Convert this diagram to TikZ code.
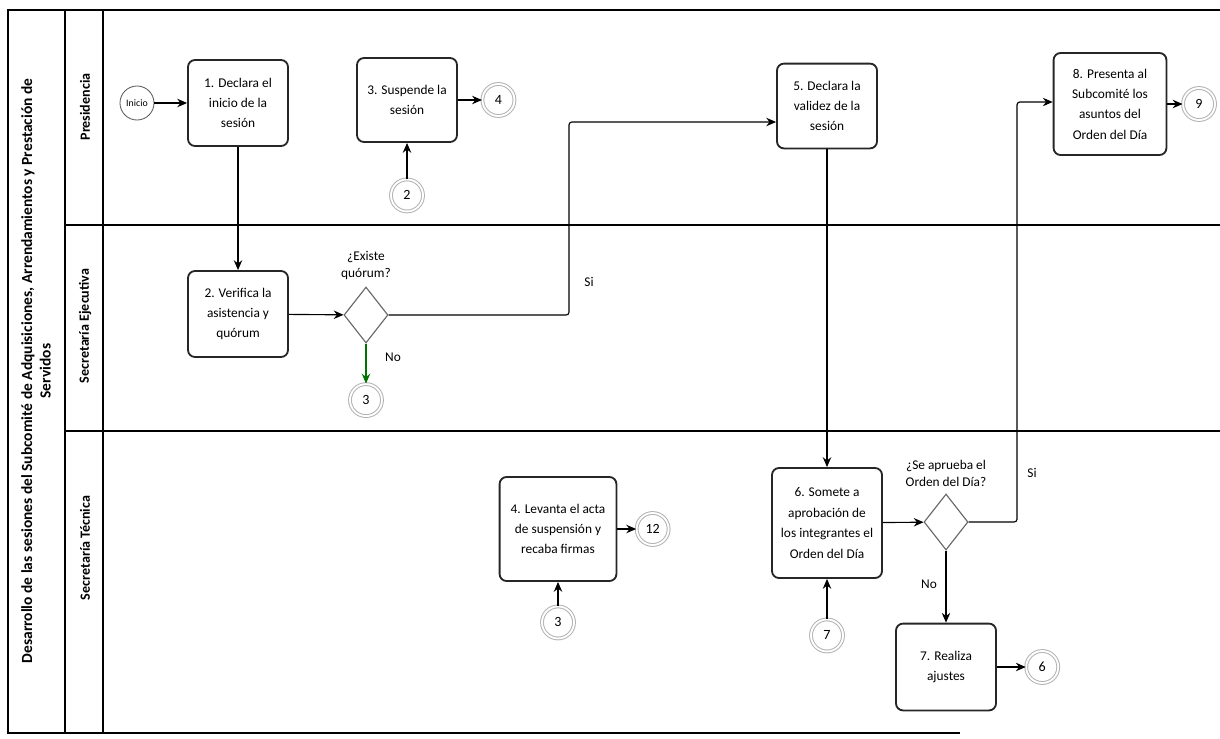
\documentclass[tikz,border=0pt]{standalone}
\usepackage{fontspec}
\setmainfont{Carlito}
\usepackage{tikz}
\usetikzlibrary{positioning, arrows.meta, shapes.geometric}
\tikzset{task node/.style={rectangle, draw=black!85, line width=1.3pt, rounded corners=5pt, align=center, font=\fontsize{9.5}{14.5}\selectfont, minimum width=2.5cm, minimum height=2.15cm, inner sep=2pt},
	link node/.style={circle, draw=gray!60, double, double distance=1.3pt, line width=0.7pt, minimum size=0.8cm, inner sep=0pt, font=\fontsize{10}{12}\selectfont},
	gate node/.style={diamond, draw=gray!80!black, line width=0.8pt, minimum width=1.1cm, minimum height=1.4cm, inner sep=0pt},
	lane label/.style={rotate=90, font=\bfseries\fontsize{10}{12}\selectfont},
	flow label/.style={font=\fontsize{9.5}{12}\selectfont, align=center},}

\begin{document}
\begin{tikzpicture}[x=0.025cm, y=-0.025cm, -{Stealth[length=7pt, width=6pt]}, line width=0.8pt]
		\useasboundingbox (0,0) rectangle (1220,738);
		% Lanes
		\draw[-, line width=1pt] (1220,10) -- (8,10) -- (8,733) -- (960,733);
		\draw[-, line width=1pt] (65,10) -- (65,733);
		\draw[-, line width=1pt] (103,10) -- (103,733);
		\draw[-, line width=1pt] (65,225) -- (1220,225);
		\draw[-, line width=1pt] (65,431) -- (1220,431);
		\node[lane label, align=center, font=\bfseries\fontsize{11}{13}\selectfont] (title) at (36,371) {Desarrollo de las sesiones del Subcomité de Adquisiciones, Arrendamientos y Prestación de\\Servidos};
		\node[lane label] (pres) at (85,107) {Presidencia};
		\node[lane label] (ejec) at (85,326) {Secretaría Ejecutiva};
		\node[lane label] (tecn) at (85,548) {Secretaría Técnica};
		% Tasks
		\node[circle, draw=gray!70!black, line width=0.6pt, minimum size=0.85cm, inner sep=0pt, font=\fontsize{7}{8}\selectfont] (inicio) at (137,103) {Inicio};
		\node[task node] (d1) at (238,103) {1. Declara el\\inicio de la\\sesión};
		\node[task node, minimum height=2.1cm] (d3) at (407,100) {3. Suspende la\\sesión};
		\node[link node] [right = 0.6cm of d3] (c4) {4};
		\node[link node] [below = 0.9cm of d3] (c2) {2};
		\node[task node, minimum height=2.12cm] (d5) at (827,106) {5. Declara la\\validez de la\\sesión};
		\node[task node, minimum width=2.82cm, minimum height=2.55cm] (d8) at (1110,104) {8. Presenta al\\Subcomité los\\asuntos del\\Orden del Día};
		\node[link node] [right = 0.38cm of d8] (c9) {9};
		\node[task node] (d2) at (238,314) {2. Verifica la\\asistencia y\\quórum};
		\node[gate node] (q1) at (366,315) {};
		\node[flow label] [above = 1pt of q1] (q1txt) {¿Existe\\quórum?};
		\node[link node] [below = 1cm of q1] (c3a) {3};
		\node[task node, minimum width=2.92cm, minimum height=2.6cm] (d4) at (558,529) {4. Levanta el acta\\de suspensión y\\recaba firmas};
		\node[link node] [right = 0.47cm of d4] (c12) {12};
		\node[link node] [below = 0.6cm of d4] (c3b) {3};
		\node[task node, minimum width=2.75cm, minimum height=2.75cm] (d6) at (827,523) {6. Somete a\\aprobación de\\los integrantes el\\Orden del Día};
		\node[link node] [below = 1cm of d6] (c7) {7};
		\node[gate node] (q2) at (946,522) {};
		\node[flow label] [above = 1pt of q2] (q2txt) {¿Se aprueba el\\Orden del Día?};
		\node[task node, minimum height=2.17cm] (d7) at (946,667) {7. Realiza\\ajustes};
		\node[link node] [right = 0.72cm of d7] (c6) {6};
		\coordinate (s1) at (569,122);
		\coordinate (s2) at (1017,102);
		% Paths
		\draw (inicio) -- (d1);
		\draw (d1) -- (d2);
		\draw (d2) -- (q1);
		\draw[green!45!black] (q1) -- (c3a);
		\node[flow label] (no1) at (393,357) {No};
		\draw[rounded corners=2pt] (q1.east) -| (s1) -- (s1 -| d5.west);
		\node[flow label] (si1) at (589,282) {Si};
		\draw (c2) -- (d3);
		\draw (d3) -- (c4);
		\draw (d5) -- (d6);
		\draw (c7) -- (d6);
		\draw (d6) -- (q2);
		\draw[rounded corners=2pt] (q2.east) -| (s2) -- (s2 -| d8.west);
		\node[flow label] (si2) at (1032,473) {Si};
		\draw (q2) -- (d7);
		\node[flow label] (no2) at (929,584) {No};
		\draw (d7) -- (c6);
		\draw (d8) -- (c9);
		\draw (c3b) -- (d4);
		\draw (d4) -- (c12);
	\end{tikzpicture}
\end{document}
